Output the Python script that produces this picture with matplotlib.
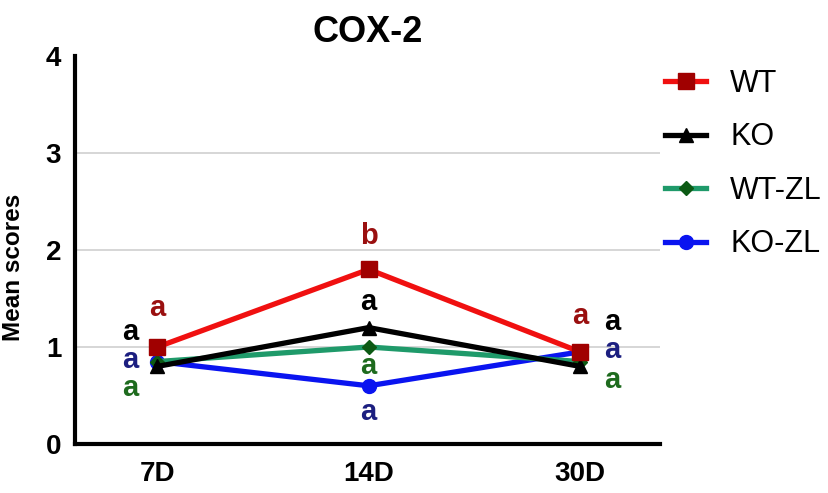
import numpy as np
import matplotlib.pyplot as plt

plt.rcParams['font.family'] = ['Liberation Sans', 'DejaVu Sans']

days = ['7D', '14D', '30D']
groups = ['WT', 'KO', 'WT-ZL', 'KO-ZL']
wt = [1.0, 1.8, 0.95]
ko = [0.8, 1.2, 0.8]
wt_zl = [0.85, 1.0, 0.85]
ko_zl = [0.85, 0.6, 0.95]

# significance letters per group, per day
letters_wt = ['a', 'b', 'a']
letters_ko = ['a', 'a', 'a']
letters_wt_zl = ['a', 'a', 'a']
letters_ko_zl = ['a', 'a', 'a']

series = [
  # values, line colour, marker, marker size, marker colour, letter colour, letters, letter offsets (px), zorder
  (ko_zl, '#0a14f0', 'o', 10, '#0a14f0', '#1c1f80', letters_ko_zl, [(-27, 2), (0, -26), (32, 2)], 2),
  (wt_zl, '#1f9a6a', 'D', 7, '#0c5a14', '#1e6b1e', letters_wt_zl, [(-27, -26), (0, -19), (32, -18)], 3),
  (ko, '#000000', '^', 10, '#000000', '#000000', letters_ko, [(-27, 34), (0, 26), (32, 44)], 4),
  (wt, '#f01010', 's', 11, '#a00000', '#9a1010', letters_wt, [(0, 39), (0, 33), (0, 36)], 5),
]
names = ['KO-ZL', 'WT-ZL', 'KO', 'WT']

fig = plt.figure(figsize=(8.29, 4.93), dpi=100)
ax = fig.add_axes([0.0905, 0.0994, 0.706, 0.787])
x = np.arange(len(days))

handles = {}
for name, (vals, lc, mk, ms, mc, tc, lets, offs, z) in zip(names, series):
  h, = ax.plot(x, vals, color=lc, lw=3.8, marker=mk, ms=ms, mfc=mc, mec=mc,
               zorder=z, label=name, clip_on=False)
  handles[name] = h
  for i, v in enumerate(vals):
    ax.annotate(lets[i], (x[i], v), xytext=offs[i], textcoords='offset pixels',
                ha='center', va='center', fontsize=21, fontweight='bold', color=tc)

for yv in [1, 2, 3]:
  ax.axhline(yv, color='#d0d0d0', lw=1.2, zorder=1)

ax.set_xlim(-0.39, 2.38)
ax.set_ylim(0, 4)
ax.set_xticks(x)
ax.set_xticklabels(days)
ax.set_yticks([0, 1, 2, 3, 4])
ax.tick_params(length=0, labelsize=20, width=0)
ax.tick_params(axis='y', pad=10)
ax.tick_params(axis='x', pad=12)
for lab in ax.get_xticklabels() + ax.get_yticklabels():
  lab.set_fontweight('bold')
for s in ['top', 'right']:
  ax.spines[s].set_visible(False)
for s in ['left', 'bottom']:
  ax.spines[s].set_linewidth(3)

ax.set_ylabel('Mean scores', fontsize=17.5, fontweight='bold')
ax.yaxis.set_label_coords(-0.085, 0.456)
ax.set_title('COX-2', fontsize=26, fontweight='bold', pad=10)

leg_handles = []
for n in groups:
  leg_handles.append(handles[n])
ax.legend(leg_handles, groups, loc='upper left',
          bbox_to_anchor=(1.0085, 0.967), frameon=False, fontsize=22,
          handlelength=1.34, handletextpad=0.78, labelspacing=0.77,
          borderaxespad=0, borderpad=0)

fig.savefig('out.png', dpi=100)
